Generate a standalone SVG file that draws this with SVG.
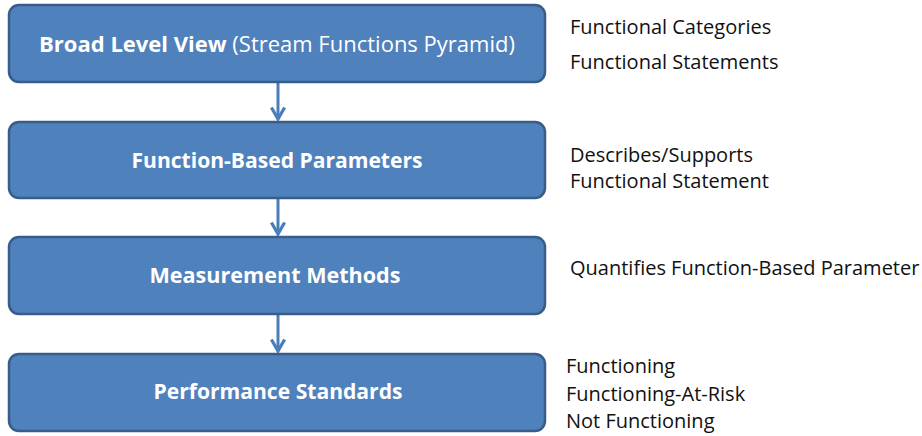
<svg xmlns="http://www.w3.org/2000/svg" width="922" height="436" viewBox="0 0 922 436">
<style>
.box{fill:#4F81BD;stroke:#385D8A;stroke-width:2.5}
.t{font-family:"Open Sans","Liberation Sans",sans-serif;fill:#fff;font-size:22px;text-anchor:middle}
.b{font-weight:bold}
.n{font-weight:normal}
.r{font-family:"Open Sans","Liberation Sans",sans-serif;fill:#111;font-size:20px}
.c{stroke:#4A7EBB;stroke-width:3;fill:none}
</style>
<defs>
<marker id="ah" viewBox="0 0 10 10" refX="8" refY="5" markerWidth="5.5" markerHeight="5.5" orient="auto" markerUnits="strokeWidth">
<path d="M1,1 L8,5 L1,9" fill="none" stroke="#4A7EBB" stroke-width="2"/>
</marker>
</defs>
<g id="connectors">
<line class="c" x1="278" y1="83" x2="278" y2="119" marker-end="url(#ah)"/>
<line class="c" x1="278" y1="199" x2="278" y2="234" marker-end="url(#ah)"/>
<line class="c" x1="278" y1="315" x2="278" y2="351" marker-end="url(#ah)"/>
</g>
<g id="n1">
<rect class="box" x="9" y="5" width="536" height="77" rx="10"/>
<text class="t" x="277" y="52"><tspan class="b">Broad Level View</tspan><tspan class="n"> (Stream Functions Pyramid)</tspan></text>
</g>
<g id="n2">
<rect class="box" x="9" y="122" width="536" height="76" rx="10"/>
<text class="t b" x="277" y="168" textLength="291" lengthAdjust="spacingAndGlyphs">Function-Based Parameters</text>
</g>
<g id="n3">
<rect class="box" x="9" y="237" width="536" height="77" rx="10"/>
<text class="t b" x="275" y="283" textLength="251" lengthAdjust="spacingAndGlyphs">Measurement Methods</text>
</g>
<g id="n4">
<rect class="box" x="9" y="354" width="536" height="77" rx="10"/>
<text class="t b" x="278" y="399" textLength="249" lengthAdjust="spacingAndGlyphs">Performance Standards</text>
</g>
<g id="labels">
<text class="r" x="570" y="34">Functional Categories</text>
<text class="r" x="570" y="69">Functional Statements</text>
<text class="r" x="570" y="162">Describes/Supports</text>
<text class="r" x="570" y="188">Functional Statement</text>
<text class="r" x="570" y="275">Quantifies Function-Based Parameter</text>
<text class="r" x="566" y="373">Functioning</text>
<text class="r" x="566" y="401">Functioning-At-Risk</text>
<text class="r" x="566" y="428">Not Functioning</text>
</g>
</svg>
